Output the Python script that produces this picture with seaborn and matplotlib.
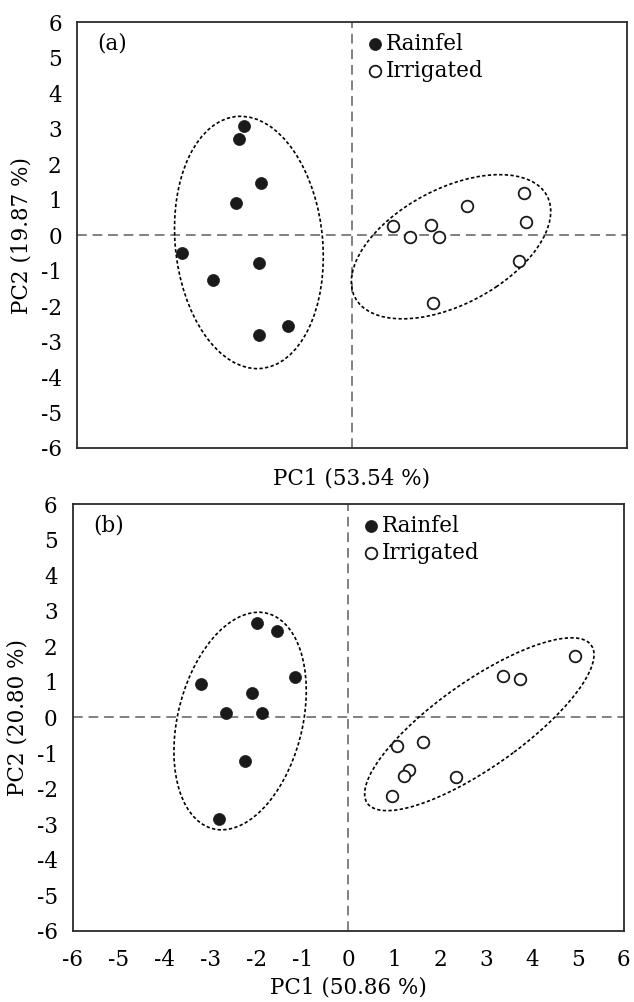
import matplotlib
matplotlib.use('Agg')
import matplotlib.pyplot as plt
from matplotlib.patches import Ellipse
import pandas as pd
import seaborn as sns

# ── Data ───────────────────────────────────────────────────────────────────────
# panel (a)
a_rain_pc1 = [-2.36, -2.47, -1.99, -2.53, -3.72, -2.04, -3.04, -1.39, -2.03]
a_rain_pc2 = [3.07, 2.71, 1.46, 0.89, -0.52, -0.80, -1.27, -2.56, -2.83]
a_irr_pc1 = [0.90, 1.27, 1.72, 1.90, 2.50, 3.76, 3.79, 3.64, 1.77]
a_irr_pc2 = [0.25, -0.05, 0.27, -0.06, 0.82, 1.19, 0.37, -0.73, -1.91]

# panel (b)
b_rain_pc1 = [-2.00, -1.56, -1.16, -3.22, -2.11, -2.67, -1.88, -2.26, -2.81]
b_rain_pc2 = [2.66, 2.44, 1.15, 0.95, 0.68, 0.13, 0.13, -1.22, -2.86]
b_irr_pc1 = [4.94, 3.36, 3.74, 1.05, 1.62, 1.31, 1.22, 2.34, 0.95]
b_irr_pc2 = [1.74, 1.17, 1.09, -0.80, -0.70, -1.47, -1.64, -1.66, -2.21]

# group ellipses: (centre x, centre y, width, height, angle)
a_ellipses = [(-2.25, -0.21, 7.12, 3.22, 93.7), (2.16, -0.33, 5.14, 3.00, 41.0)]
b_ellipses = [(-2.36, -0.10, 6.18, 2.74, 80.7), (2.85, -0.19, 6.62, 2.18, 44.0)]

panel_labels = ['(a)', '(b)']
x_labels = ['PC1 (53.54 %)', 'PC1 (50.86 %)']
y_labels = ['PC2 (19.87 %)', 'PC2 (20.80 %)']
ticks = [-6, -5, -4, -3, -2, -1, 0, 1, 2, 3, 4, 5, 6]

sns.set_theme(style='white')
plt.rcParams['font.family'] = ['DejaVu Serif']
plt.rcParams['axes.unicode_minus'] = False
plt.rcParams['text.color'] = 'black'
plt.rcParams['axes.labelcolor'] = 'black'
plt.rcParams['xtick.color'] = 'black'
plt.rcParams['ytick.color'] = 'black'

FS = 15.5


def make_df(rain_x, rain_y, irr_x, irr_y):
    return pd.DataFrame({
        'pc1': rain_x + irr_x,
        'pc2': rain_y + irr_y,
        'group': ['Rainfel'] * len(rain_x) + ['Irrigated'] * len(irr_x),
    })


def draw_panel(ax, df, ellipses, label, xlabel, ylabel, show_xticks):
    ax.axhline(0, color='#808080', lw=1.4, ls=(0, (5, 3)), zorder=1)
    ax.axvline(0, color='#808080', lw=1.4, ls=(0, (5, 3)), zorder=1)

    for cx, cy, w, h, ang in ellipses:
        ax.add_patch(Ellipse((cx, cy), w, h, angle=ang, fill=False,
                             ec='black', lw=1.2, ls=(0, (2, 1.4)), zorder=2))

    rain = df[df['group'] == 'Rainfel']
    irr = df[df['group'] == 'Irrigated']
    sns.scatterplot(data=rain, x='pc1', y='pc2', ax=ax, s=75, color='#1a1a1a',
                    edgecolor='#1a1a1a', linewidth=0.5, label='Rainfel', zorder=3)
    sns.scatterplot(data=irr, x='pc1', y='pc2', ax=ax, s=70, facecolor='white',
                    edgecolor='#1a1a1a', linewidth=1.3, label='Irrigated', zorder=3)

    ax.set_xlim(-6, 6)
    ax.set_ylim(-6, 6)
    ax.set_xticks(ticks)
    ax.set_yticks(ticks)
    if not show_xticks:
        ax.set_xticklabels([])
    ax.tick_params(axis='y', length=0, labelsize=FS, pad=11)
    ax.tick_params(axis='x', length=0, labelsize=FS, pad=13)
    ax.set_xlabel(xlabel, fontsize=FS, labelpad=4 if show_xticks else 1)
    ax.set_ylabel(ylabel, fontsize=FS, labelpad=6)
    for sp in ax.spines.values():
        sp.set_color('#2a2a2a')
        sp.set_linewidth(1.3)

    ax.text(0.036, 0.95, label, transform=ax.transAxes, fontsize=FS,
            ha='left', va='center')
    ax.legend(loc='upper left', bbox_to_anchor=(0.53, 0.975), frameon=False,
              fontsize=FS, handlelength=0.6, handletextpad=0.2,
              borderaxespad=0, borderpad=0, labelspacing=0.25,
              markerscale=1.0)


fig = plt.figure(figsize=(6.34, 10.02), dpi=100)
ax_a = fig.add_axes([0.1215, 0.5529, 0.8675, 0.4251])
ax_b = fig.add_axes([0.1151, 0.0709, 0.869, 0.4261])

draw_panel(ax_a, make_df(a_rain_pc1, a_rain_pc2, a_irr_pc1, a_irr_pc2),
           a_ellipses, panel_labels[0], x_labels[0], y_labels[0], False)
draw_panel(ax_b, make_df(b_rain_pc1, b_rain_pc2, b_irr_pc1, b_irr_pc2),
           b_ellipses, panel_labels[1], x_labels[1], y_labels[1], True)

fig.savefig('out.png', dpi=100, facecolor='white')
